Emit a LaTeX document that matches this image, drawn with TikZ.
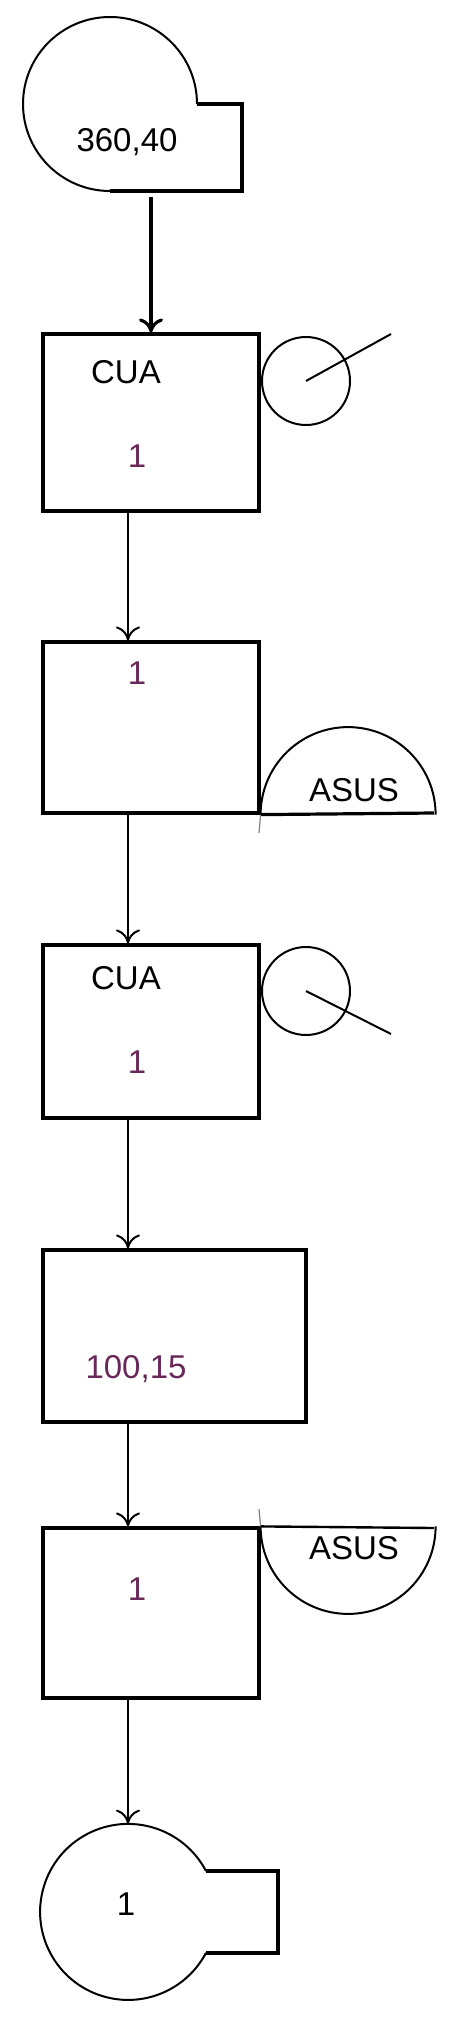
\documentclass[tikz,border=0pt]{standalone}
\usepackage{fontspec}
\setmainfont{Liberation Sans}
\usetikzlibrary{arrows.meta}
\definecolor{numcol}{RGB}{105,40,88}
\begin{document}
\begin{tikzpicture}[x=0.5pt,y=-0.5pt,
  box/.style={draw, line width=1.6pt, rectangle, inner sep=0pt},
  circ/.style={circle, inner sep=0pt},
  thin outline/.style={line width=1pt},
  lbl/.style={inner sep=0pt, font=\fontsize{16.5}{18}\selectfont},
  num/.style={lbl, text=numcol},
  flow/.style={line width=1pt, -{To[length=7pt,width=12pt]}},
  flowthick/.style={line width=1.6pt, -{To[length=7pt,width=12pt]}}]
\useasboundingbox (0,0) rectangle (474,2028);

% start terminator
\node[circ, minimum size=87pt] (startc) at (110,104) {};
\draw[thin outline] (197,104) arc[start angle=0, end angle=-270, radius=87];
\draw[line width=1.6pt] (110,191) -- (242,191) -- (242,104) -- (197,104);
\node[lbl] (t0) at (127,142) {360,40};

% box 1
\node[box, minimum width=108pt, minimum height=88.5pt] (b1) at (151,422.5) {};
\node[lbl] (t1a) at (126,372) {CUA};
\node[num] (t1b) at (137,456) {1};
\node[circ, draw, thin outline, minimum size=44pt] (c1) at (306,381) {};
\coordinate (c1e) at (391,334);
\draw[thin outline] (c1.center) -- (c1e);

% box 2
\node[box, minimum width=108pt, minimum height=85.5pt] (b2) at (151,727.5) {};
\node[num] (t2) at (137,673) {1};
\draw[thin outline] (b2.south east) arc[start angle=180, end angle=360, radius=87.5];
\coordinate (a2e) at (434,813);
\draw[line width=1.6pt] (b2.south east) -- (a2e);
\coordinate (tk2) at (259,833);
\draw[line width=0.6pt, gray] (b2.south east) -- (tk2);
\node[lbl] (t2s) at (354,790) {ASUS};

% box 3
\node[box, minimum width=108pt, minimum height=86.5pt] (b3) at (151,1031.5) {};
\node[lbl] (t3a) at (126,978) {CUA};
\node[num] (t3b) at (137,1062) {1};
\node[circ, draw, thin outline, minimum size=44pt] (c3) at (306,991) {};
\coordinate (c3e) at (391,1034);
\draw[thin outline] (c3.center) -- (c3e);

% box 4
\node[box, minimum width=131.5pt, minimum height=86pt] (b4) at (174.5,1336) {};
\node[num] (t4) at (136,1369) {100,15};

% box 5
\node[box, minimum width=108pt, minimum height=85pt] (b5) at (151,1613) {};
\node[num] (t5) at (137,1589) {1};
\draw[thin outline] (b5.north east) arc[start angle=180, end angle=0, radius=87.5];
\coordinate (a5e) at (434,1528);
\draw[line width=1.2pt] (b5.north east) -- (a5e);
\coordinate (tk5) at (259,1509);
\draw[line width=0.6pt, gray] (b5.north east) -- (tk5);
\node[lbl] (t5s) at (354,1548) {ASUS};

% end terminator
\node[circ, minimum size=88pt] (endc) at (128,1912) {};
\draw[thin outline] (206,1871) arc[start angle=-27.7, end angle=-332.3, radius=88];
\draw[line width=1.6pt] (206,1953) -- (278,1953) -- (278,1871) -- (206,1871);
\node[lbl] (t6) at (126,1904) {1};

% connectors
\coordinate (ax) at (128,0);
\draw[flowthick] ([yshift=-3pt]startc.south -| b1.north) -- (b1.north);
\draw[flow] (b1.south -| ax) -- (b2.north -| ax);
\draw[flow] (b2.south -| ax) -- (b3.north -| ax);
\draw[flow] (b3.south -| ax) -- (b4.north -| ax);
\draw[flow] (b4.south -| ax) -- (b5.north -| ax);
\draw[flow] (b5.south -| ax) -- (endc.north);
\end{tikzpicture}
\end{document}
